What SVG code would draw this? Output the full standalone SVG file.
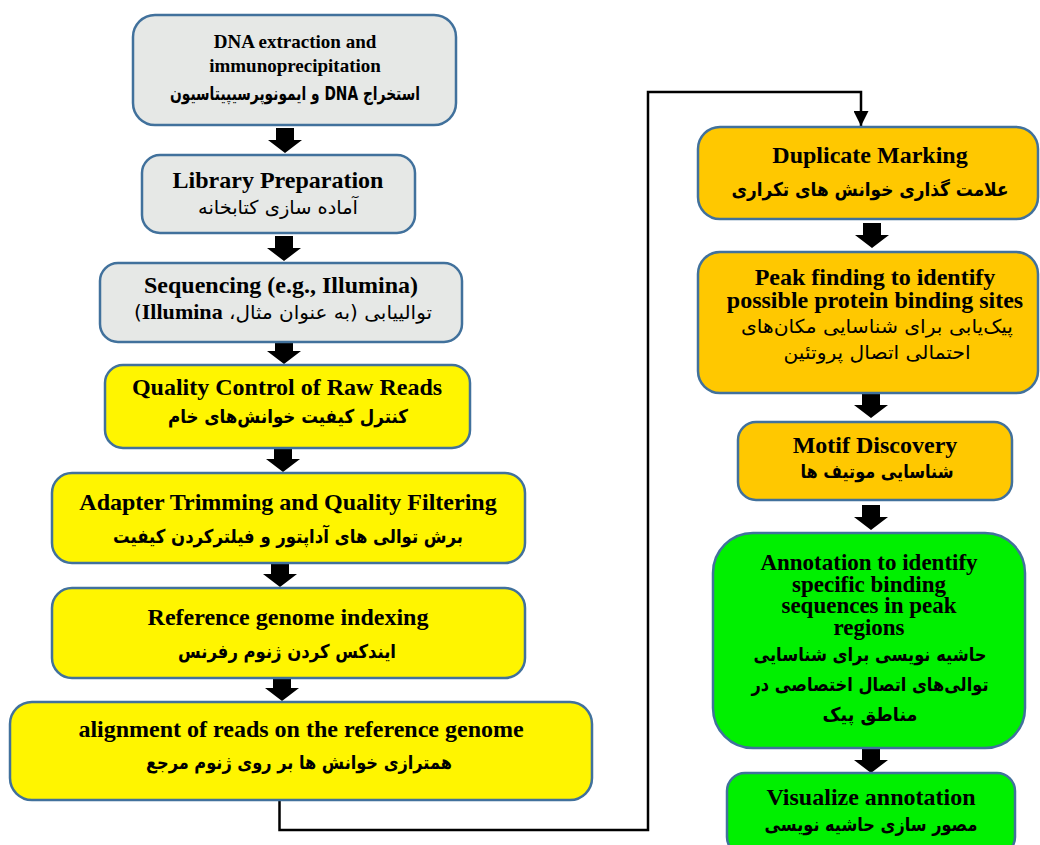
<svg xmlns="http://www.w3.org/2000/svg" width="1040" height="845" viewBox="0 0 1040 845">
<style>
.box{stroke:#41719c;stroke-width:2.5}
.grey{fill:#e6e8e6}
.yel{fill:#fff500}
.org{fill:#ffc800}
.grn{fill:#00f000}
.en{font-family:"Liberation Serif","Times New Roman",serif;font-weight:bold;font-size:24px;fill:#000;text-anchor:middle}
.en19{font-size:19px}
.en23{font-size:23px}
.fa{font-family:"DejaVu Sans","Noto Sans",sans-serif;font-weight:bold;font-size:19px;fill:#000;text-anchor:middle;direction:rtl}
.fan{font-weight:normal}
.arr{fill:#000}
.conn{fill:none;stroke:#000;stroke-width:2.5}
</style>
<defs>
<path id="down" d="M-9,0 H9 V12 H17 L0,25 L-17,12 H-9 Z"/>
<marker id="ah" viewBox="0 0 10 10" refX="10" refY="5" markerWidth="6" markerHeight="6" orient="auto" markerUnits="strokeWidth">
<path d="M0,0 L10,5 L0,10 Z" fill="#000"/>
</marker>
</defs>
<rect width="1040" height="845" fill="#fff"/>
<g id="connectors">
<use href="#down" class="arr" x="285" y="128"/>
<use href="#down" class="arr" x="284" y="236"/>
<use href="#down" class="arr" x="284" y="339"/>
<use href="#down" class="arr" x="283" y="447"/>
<use href="#down" class="arr" x="280" y="562"/>
<use href="#down" class="arr" x="282" y="676"/>
<use href="#down" class="arr" x="872" y="223"/>
<use href="#down" class="arr" x="871" y="393"/>
<use href="#down" class="arr" x="871" y="505"/>
<use href="#down" class="arr" x="871" y="748"/>
<polyline class="conn" points="279.5,800 279.5,830 648,830 648,92 861,92 861,126" marker-end="url(#ah)"/>
</g>
<g id="n1">
<rect class="box grey" x="133" y="15" width="323" height="110" rx="22"/>
<text class="en en19" x="295" y="48">DNA extraction and</text>
<text class="en en19" x="295" y="72">immunoprecipitation</text>
<text class="fa" x="295" y="100" textLength="250" lengthAdjust="spacingAndGlyphs">استخراج DNA و ایمونوپرسیپیتاسیون</text>
</g>
<g id="n2">
<rect class="box grey" x="142" y="155" width="273" height="78" rx="18"/>
<text class="en" x="278" y="188">Library Preparation</text>
<text class="fa fan" x="278" y="214" textLength="160" lengthAdjust="spacingAndGlyphs">آماده سازی کتابخانه</text>
</g>
<g id="n3">
<rect class="box grey" x="100" y="263" width="362" height="79" rx="18"/>
<text class="en" x="281" y="293">Sequencing (e.g., Illumina)</text>
<text class="fa fan" x="283" y="319" textLength="298" lengthAdjust="spacingAndGlyphs">توالییابی (به عنوان مثال، <tspan font-family="Liberation Serif" font-weight="bold" font-size="21">Illumina</tspan>)</text>
</g>
<g id="n4">
<rect class="box yel" x="105" y="365" width="365" height="83" rx="18"/>
<text class="en" x="287" y="395">Quality Control of Raw Reads</text>
<text class="fa" x="288" y="423" textLength="240" lengthAdjust="spacingAndGlyphs">کنترل کیفیت خوانش‌های خام</text>
</g>
<g id="n5">
<rect class="box yel" x="52" y="473" width="473" height="90" rx="20"/>
<text class="en" x="288" y="510">Adapter Trimming and Quality Filtering</text>
<text class="fa" x="288" y="543" textLength="350" lengthAdjust="spacingAndGlyphs">برش توالی های آداپتور و فیلترکردن کیفیت</text>
</g>
<g id="n6">
<rect class="box yel" x="52" y="588" width="473" height="90" rx="20"/>
<text class="en" x="288" y="625">Reference genome indexing</text>
<text class="fa" x="287" y="658" textLength="218" lengthAdjust="spacingAndGlyphs">ایندکس کردن ژنوم رفرنس</text>
</g>
<g id="n7">
<rect class="box yel" x="10" y="702" width="582" height="98" rx="22"/>
<text class="en" x="301" y="737">alignment of reads on the reference genome</text>
<text class="fa" x="299" y="769" textLength="306" lengthAdjust="spacingAndGlyphs">همترازی خوانش ها بر روی ژنوم مرجع</text>
</g>
<g id="n8">
<rect class="box org" x="698" y="127" width="340" height="92" rx="22"/>
<text class="en" x="870" y="163">Duplicate Marking</text>
<text class="fa" x="870" y="196" textLength="277" lengthAdjust="spacingAndGlyphs">علامت گذاری خوانش های تکراری</text>
</g>
<g id="n9">
<rect class="box org" x="698" y="252" width="340" height="141" rx="22"/>
<text class="en" x="875" y="285">Peak finding to identify</text>
<text class="en" x="875" y="308">possible protein binding sites</text>
<text class="fa fan" x="877" y="333" textLength="272" lengthAdjust="spacingAndGlyphs">پیک‌یابی برای شناسایی مکان‌های</text>
<text class="fa fan" x="877" y="359" textLength="187" lengthAdjust="spacingAndGlyphs">احتمالی اتصال پروتئین</text>
</g>
<g id="n10">
<rect class="box org" x="738" y="422" width="274" height="78" rx="18"/>
<text class="en" x="875" y="453">Motif Discovery</text>
<text class="fa" x="877" y="478" textLength="153" lengthAdjust="spacingAndGlyphs">شناسایی موتیف ها</text>
</g>
<g id="n11">
<rect class="box grn" x="713" y="533" width="312" height="215" rx="40"/>
<text class="en en23" x="869" y="570">Annotation to identify</text>
<text class="en en23" x="869" y="592">specific binding</text>
<text class="en en23" x="869" y="613">sequences in peak</text>
<text class="en en23" x="869" y="635">regions</text>
<text class="fa" x="870" y="661" textLength="233" lengthAdjust="spacingAndGlyphs">حاشیه نویسی برای شناسایی</text>
<text class="fa" x="870" y="691" textLength="237" lengthAdjust="spacingAndGlyphs">توالی‌های اتصال اختصاصی در</text>
<text class="fa" x="870" y="721" textLength="95" lengthAdjust="spacingAndGlyphs">مناطق پیک</text>
</g>
<g id="n12">
<rect class="box grn" x="727" y="773" width="288" height="82" rx="18"/>
<text class="en" x="871" y="805">Visualize annotation</text>
<text class="fa" x="871" y="831" textLength="213" lengthAdjust="spacingAndGlyphs">مصور سازی حاشیه نویسی</text>
</g>
</svg>
